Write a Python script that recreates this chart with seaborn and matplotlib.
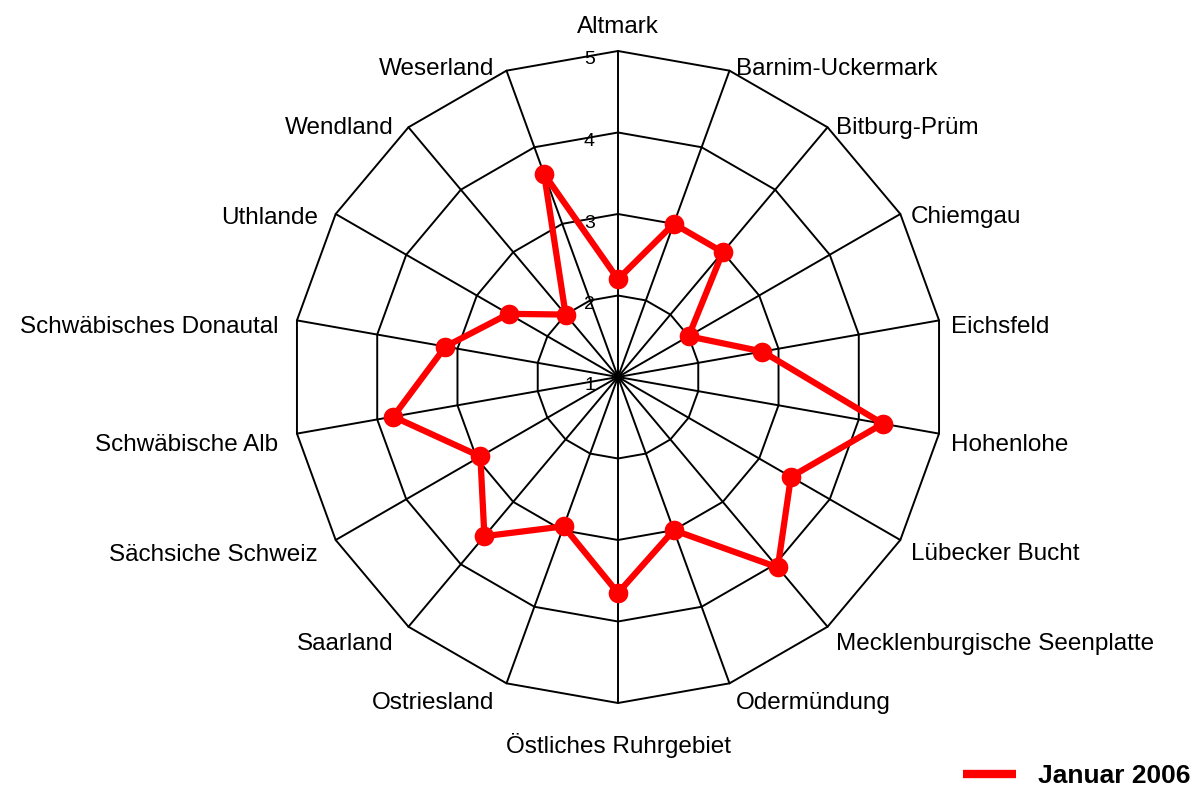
import numpy as np
import pandas as pd
import matplotlib
matplotlib.use("Agg")
import matplotlib.pyplot as plt
import seaborn as sns
from matplotlib.lines import Line2D

regions = ["Altmark", "Barnim-Uckermark", "Bitburg-Prüm", "Chiemgau", "Eichsfeld",
           "Hohenlohe", "Lübecker Bucht", "Mecklenburgische Seenplatte", "Odermündung",
           "Östliches Ruhrgebiet", "Ostriesland", "Saarland", "Sächsiche Schweiz",
           "Schwäbische Alb", "Schwäbisches Donautal", "Uthlande", "Wendland", "Weserland"]
values = [2.2, 3.0, 3.0, 2.0, 2.8, 4.3, 3.45, 4.05, 3.0, 3.65, 2.95, 3.55, 2.95,
          3.8, 3.15, 2.55, 2.0, 3.65]
levels = [1, 2, 3, 4, 5]
series_name = "Januar 2006"

sns.set_style("white")
plt.rcParams["font.family"] = ["Liberation Sans", "DejaVu Sans"]
plt.rcParams["text.color"] = "black"

n = len(regions)
theta = np.linspace(0, 2 * np.pi, n, endpoint=False)
theta_c = np.append(theta, 2 * np.pi)

fig = plt.figure(figsize=(11.92, 7.87), dpi=100)
ax = fig.add_axes([292 / 1192, 84 / 787, 652 / 1192, 652 / 787], projection="polar")
ax.set_theta_zero_location("N")
ax.set_theta_direction(-1)

# polygon grid
for r in levels[1:]:
    ax.plot(theta_c, [r] * (n + 1), color="black", lw=1.4, clip_on=False, zorder=1)
for t in theta:
    ax.plot([t, t], [levels[0], levels[-1]], color="black", lw=1.4, clip_on=False, zorder=1)

df = pd.DataFrame({"theta": theta_c, "value": values + values[:1]})
sns.lineplot(data=df, x="theta", y="value", ax=ax, color="red", lw=4.5,
             sort=False, zorder=3, clip_on=False)
sns.scatterplot(data=df.iloc[:-1], x="theta", y="value", ax=ax, color="red",
                s=200, edgecolor="red", linewidth=0, zorder=4, clip_on=False)

ax.set_ylim(levels[0], levels[-1])
ax.grid(False)
ax.spines["polar"].set_visible(False)
ax.set_xticks([])
ax.set_yticks([])
ax.set_xlabel("")
ax.set_ylabel("")

# radial tick labels
for r in levels:
    ax.annotate(str(r), xy=(0, r), xytext=(-23 * 0.72, -9 * 0.72),
                textcoords="offset points", ha="right", va="center", fontsize=14)

# category labels
for t, name in zip(theta, regions):
    s, c = np.sin(t), np.cos(t)
    if abs(s) < 0.01:
        ha = "center"
        dx = 0
        dy = -24 if c > 0 else 43
    elif s > 0:
        ha = "left"
        dx = 3 + 9 * abs(s)
        dy = 9 - 11 * c
    else:
        ha = "right"
        dx = -(8 + 11 * abs(s))
        dy = 9 - 11 * c
    ax.annotate(name, xy=(t, levels[-1]), xytext=(dx * 0.72, -dy * 0.72),
                textcoords="offset points", ha=ha, va="center", fontsize=17.5)

handle = Line2D([], [], color="red", lw=6, solid_capstyle="butt")
fig.legend([handle], [series_name], loc="center right",
           bbox_to_anchor=(1191 / 1192, (787 - 776) / 787), frameon=False,
           borderpad=0, borderaxespad=0, handlelength=2.0, handletextpad=0.85,
           prop={"weight": "bold", "size": 19})

fig.savefig("out.png", dpi=100)
